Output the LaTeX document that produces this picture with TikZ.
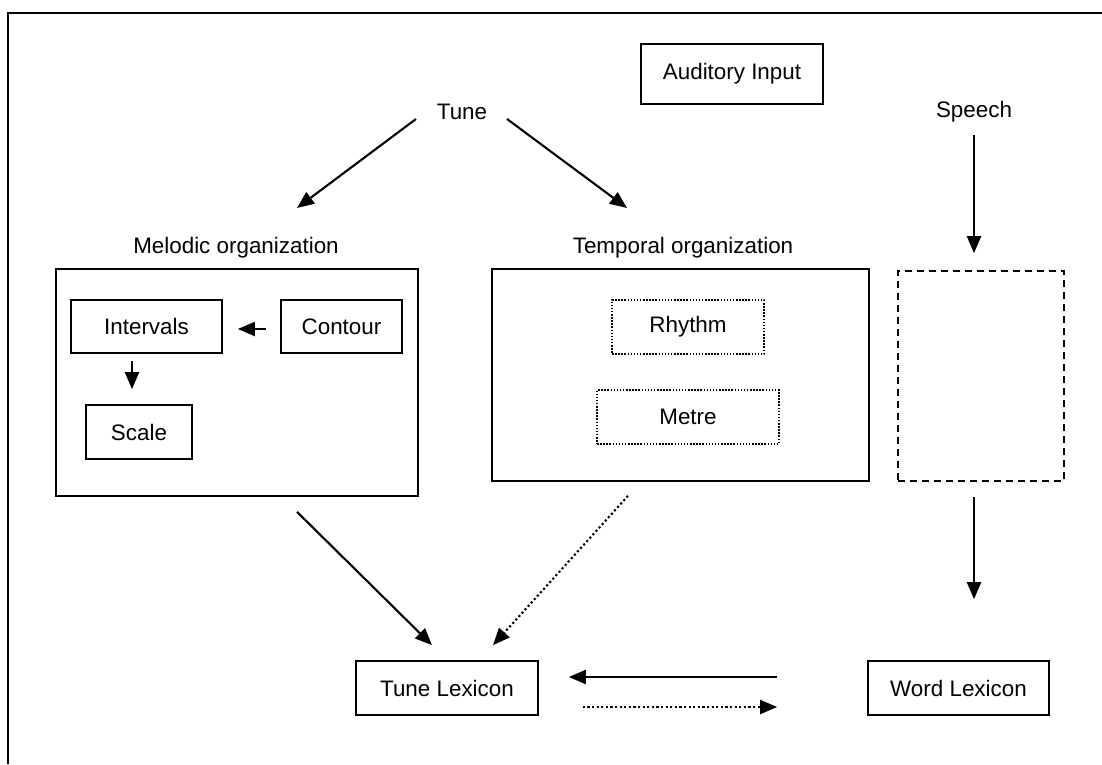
\documentclass[tikz,border=0pt]{standalone}
\usepackage{fontspec}
\setmainfont{Liberation Sans}
\usepackage{tikz}
\usetikzlibrary{
    arrows.meta,
    positioning
}

\begin{document}
\begin{tikzpicture}[
x=1pt, y=-1pt,
font=\fontsize{22.4}{26}\selectfont,
box/.style={
draw,
line width=1.7pt,
minimum height=54pt,
inner sep=0pt,
align=center
},
dotbox/.style={
box,
line width=1.5pt,
dash pattern=on 1.5pt off 1.6pt
},
label/.style={
inner sep=0pt
},
arr/.style={
-{Triangle[length=17pt,width=14pt]},
line width=2.1pt
},
dotarr/.style={
arr,
dash pattern=on 2.1pt off 2.5pt
}
]

\useasboundingbox[fill=white] (0,0) rectangle (1102,764);
\draw[line width=1.9pt] (1102,12.7) -- (8,12.7) -- (8,764);

\node[box, minimum width=182pt, minimum height=60pt] (input) at (732,74)
{Auditory Input};

\node[label] (tune) at (462,112) {Tune};

\node[label] (speech) at (974,112) {Speech};

\node[label] (mellab) at (236,248) {Melodic organization};

\node[label] (templab) at (683,248) {Temporal organization};

\node[box, minimum width=362pt, minimum height=227pt] (melodic) at (237,382.5) {};

\node[box, minimum width=151pt, minimum height=53pt] (intervals) at (146.5,326.5)
{Intervals};

\node[box, minimum width=121pt, minimum height=53pt] (contour) at (341.5,326.5)
{Contour};

\node[box, minimum width=106pt] (scale) at (139,432)
{Scale};

\node[box, minimum width=377pt, minimum height=212pt] (temporal) at (680.5,375) {};

\node[dotbox, minimum width=152pt] (rhythm) at (688,327)
{Rhythm};

\node[dotbox, minimum width=182pt] (metre) at (688,417)
{Metre};

\node[box, line width=1.6pt, dash pattern=on 7pt off 5pt,
minimum width=166pt, minimum height=210pt] (speechbox) at (981,376) {};

\node[box, minimum width=182pt] (tunelex) at (447,688)
{Tune Lexicon};

\node[box, minimum width=181pt] (wordlex) at (958.5,688)
{Word Lexicon};

\draw[arr]
([shift={(-46,7)}]tune.center) -- ([shift={(61,-40)}]mellab.center);

\draw[arr]
([shift={(45,7)}]tune.center) -- ([shift={(-56,-40)}]templab.center);

\draw[arr]
([shift={(0,23)}]speech.center) -- ([shift={(-7,-17)}]speechbox.north);

\draw[arr]
([shift={(-7,15)}]speechbox.south) -- ([shift={(15.5,-61)}]wordlex.north);

\draw[arr]
([shift={(-14,2.5)}]contour.west) -- ([shift={(15,2.5)}]intervals.east);

\draw[arr]
([shift={(-14.5,7)}]intervals.south) -- ([shift={(-7,-15)}]scale.north);

\draw[arr]
([shift={(60,15)}]melodic.south) -- ([shift={(-15,-15)}]tunelex.north);

\draw[dotarr]
([shift={(-52.5,14)}]temporal.south) -- ([shift={(46,-15)}]tunelex.north);

\draw[arr]
([shift={(-90,-11)}]wordlex.west) -- ([shift={(30,-11)}]tunelex.east);

\draw[dotarr]
([shift={(44,19)}]tunelex.east) -- ([shift={(-90,19)}]wordlex.west);

\end{tikzpicture}
\end{document}
